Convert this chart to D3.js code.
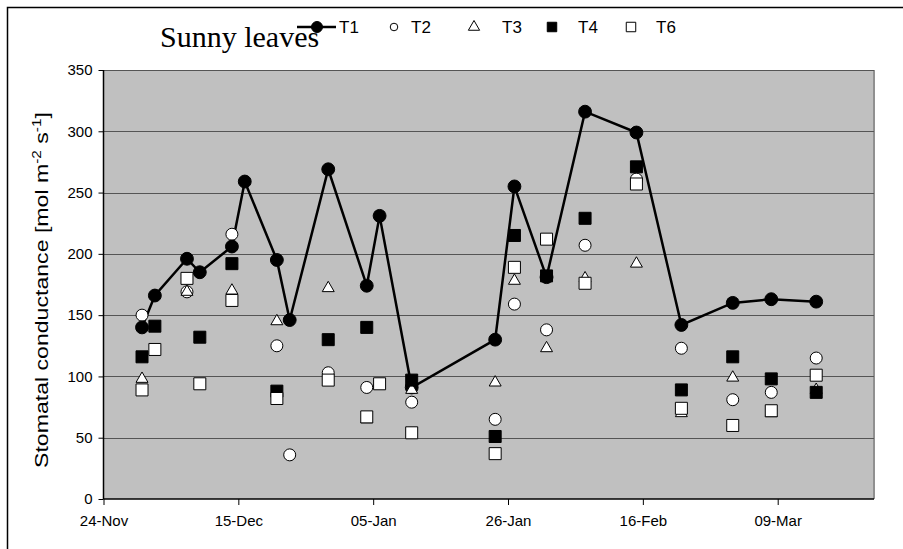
<!DOCTYPE html>
<html lang="en">
<head>
<meta charset="utf-8">
<script src="https://d3js.org/d3.v7.min.js"></script>
<style type="text/css">
body {
	margin: 0;
	background: white;
}
.tick text {
	font: 15px "Liberation Sans", Arial, sans-serif;
	fill: #000;
}
</style>
</head>
<body>
<script type="text/javascript">

// sampling dates (year chosen only to place days on a calendar)
var dates = ["2005-11-30", "2005-12-02", "2005-12-07", "2005-12-09", "2005-12-14",
	"2005-12-16", "2005-12-21", "2005-12-23", "2005-12-29", "2006-01-04",
	"2006-01-06", "2006-01-11", "2006-01-24", "2006-01-27", "2006-02-01",
	"2006-02-07", "2006-02-15", "2006-02-22", "2006-03-02", "2006-03-08",
	"2006-03-15"];

// stomatal conductance per treatment (null = not measured that day)
var t1 = [140, 166, 196, 185, 206, 259, 195, 146, 269, 174, 231, 91, 130, 255, 181, 316, 299, 142, 160, 163, 161];
var t2 = [150, null, 169, null, 216, null, 125, 36, 103, 91, null, 79, 65, 159, 138, 207, 261, 123, 81, 87, 115];
var t3 = [98, null, 169, null, 170, null, 145, null, 172, 65, null, 89, 95, 178, 123, 180, 192, 70, 99, 70, 89];
var t4 = [116, 141, null, 132, 192, null, 88, null, 130, 140, null, 97, 51, 215, 182, 229, 271, 89, 116, 98, 87];
var t6 = [89, 122, 180, 94, 162, null, 82, null, 97, 67, 94, 54, 37, 189, 212, 176, 257, 74, 60, 72, 101];

var xDomain = ["2005-11-24", "2006-03-24"];
var xTicks = ["2005-11-24", "2005-12-15", "2006-01-05", "2006-01-26", "2006-02-16", "2006-03-09"];
var yTicks = [0, 50, 100, 150, 200, 250, 300, 350];

var legendNames = ["T1", "T2", "T3", "T4", "T6"];

var width = 903;
var height = 549;
var plot = {left: 103.5, right: 874, top: 70, bottom: 499};

var parse = d3.utcParse("%Y-%m-%d");
var fmt = d3.utcFormat("%d-%b");

var x = d3.scaleUtc()
	.domain(xDomain.map(parse))
	.range([plot.left, plot.right]);

var y = d3.scaleLinear()
	.domain([0, 350])
	.range([plot.bottom, plot.top]);

var svg = d3.select("body")
	.append("svg")
	.attr("width", width)
	.attr("height", height)
	.style("font-family", "'Liberation Sans', Arial, sans-serif");

// outer chart border (only left and top fall inside the picture)
svg.append("path")
	.attr("d", "M7.5," + height + "V7.5H" + width)
	.attr("fill", "none")
	.attr("stroke", "#000")
	.attr("stroke-width", 1.5);

// plot area
svg.append("rect")
	.attr("x", plot.left)
	.attr("y", plot.top)
	.attr("width", plot.right - plot.left)
	.attr("height", plot.bottom - plot.top)
	.attr("fill", "#c0c0c0");

svg.append("line")
	.attr("x1", plot.right).attr("x2", plot.right)
	.attr("y1", plot.top).attr("y2", plot.bottom)
	.attr("stroke", "#909090")
	.attr("stroke-width", 2);

// gridlines
svg.append("g")
	.selectAll("line")
	.data(yTicks.filter(function(d) { return d > 0; }))
	.enter()
	.append("line")
	.attr("x1", plot.left)
	.attr("x2", plot.right)
	.attr("y1", function(d) { return Math.round(y(d)) + 0.5; })
	.attr("y2", function(d) { return Math.round(y(d)) + 0.5; })
	.attr("stroke", "#555")
	.attr("stroke-width", 1);

// axes
var yAxis = svg.append("g")
	.attr("transform", "translate(" + plot.left + ",0)")
	.call(d3.axisLeft(y).tickValues(yTicks).tickSize(5).tickPadding(6));

var xAxis = svg.append("g")
	.attr("transform", "translate(0," + plot.bottom + ")")
	.call(d3.axisBottom(x).tickValues(xTicks.map(parse)).tickFormat(fmt).tickSize(6).tickPadding(10));

svg.selectAll(".domain").attr("stroke", "#000").attr("stroke-width", 1.5);
svg.selectAll(".tick line").attr("stroke", "#000");
yAxis.selectAll(".domain").attr("d", "M0," + plot.top + "V" + plot.bottom);
xAxis.selectAll(".domain").attr("d", "M" + plot.left + ",0H" + plot.right);

// y-axis title (stretched along its length like the original)
var ytitle = svg.append("text")
	.attr("transform", "translate(48,290) rotate(-90)")
	.attr("text-anchor", "middle")
	.attr("textLength", 356)
	.attr("lengthAdjust", "spacingAndGlyphs")
	.style("font-size", "18px");
ytitle.append("tspan").text("Stomatal conductance [mol m");
ytitle.append("tspan").attr("dy", -7).style("font-size", "12px").text("-2");
ytitle.append("tspan").attr("dy", 7).text(" s");
ytitle.append("tspan").attr("dy", -7).style("font-size", "12px").text("-1");
ytitle.append("tspan").attr("dy", 7).text("]");

// markers
var circleSym = d3.symbol().type(d3.symbolCircle);
var squareSym = d3.symbol().type(d3.symbolSquare);
var triSym = d3.symbol().type(d3.symbolTriangle);

var series = {
	T1: {values: t1, sym: circleSym.size(130)(), fill: "#000"},
	T2: {values: t2, sym: circleSym.size(113)(), fill: "#fff"},
	T3: {values: t3, sym: triSym.size(62)(), fill: "#fff"},
	T4: {values: t4, sym: squareSym.size(144)(), fill: "#000"},
	T6: {values: t6, sym: squareSym.size(144)(), fill: "#fff"}
};

function points(vals) {
	return dates.map(function(d, i) { return {date: parse(d), v: vals[i]}; })
		.filter(function(p) { return p.v != null; });
}

// T1 line
var line = d3.line()
	.x(function(d) { return x(d.date); })
	.y(function(d) { return y(d.v); });

svg.append("path")
	.datum(points(t1))
	.attr("d", line)
	.attr("fill", "none")
	.attr("stroke", "#000")
	.attr("stroke-width", 2.5);

// drawing order as in the original
["T2", "T1", "T3", "T4", "T6"].forEach(function(name) {
	var s = series[name];
	svg.append("g")
		.selectAll("path")
		.data(points(s.values))
		.enter()
		.append("path")
		.attr("transform", function(d) { return "translate(" + x(d.date) + "," + y(d.v) + ")"; })
		.attr("d", s.sym)
		.attr("fill", s.fill)
		.attr("stroke", "#000")
		.attr("stroke-width", 1);
});

// title
svg.append("text")
	.attr("x", 160)
	.attr("y", 47)
	.style("font-family", "'Liberation Serif', 'Times New Roman', serif")
	.style("font-size", "30px")
	.text("Sunny leaves");

// legend
var legendX = [317, 394, 474, 552, 631];
var legendTextX = [339, 411, 502, 578, 656];
var legendSyms = [
	circleSym.size(95)(),
	circleSym.size(45)(),
	triSym.size(55)(),
	squareSym.size(90)(),
	squareSym.size(90)()
];
var legendFill = ["#000", "#fff", "#fff", "#000", "#fff"];
var legendY = 27;

svg.append("line")
	.attr("x1", 297).attr("x2", 336)
	.attr("y1", legendY).attr("y2", legendY)
	.attr("stroke", "#000")
	.attr("stroke-width", 2.5);

var leg = svg.append("g")
	.selectAll("g")
	.data(legendNames)
	.enter()
	.append("g");

leg.append("path")
	.attr("transform", function(d, i) { return "translate(" + legendX[i] + "," + legendY + ")"; })
	.attr("d", function(d, i) { return legendSyms[i]; })
	.attr("fill", function(d, i) { return legendFill[i]; })
	.attr("stroke", "#000")
	.attr("stroke-width", 1);

leg.append("text")
	.attr("x", function(d, i) { return legendTextX[i]; })
	.attr("y", legendY + 6)
	.style("font-size", "17px")
	.text(function(d) { return d; });

</script>
</body>
</html>
